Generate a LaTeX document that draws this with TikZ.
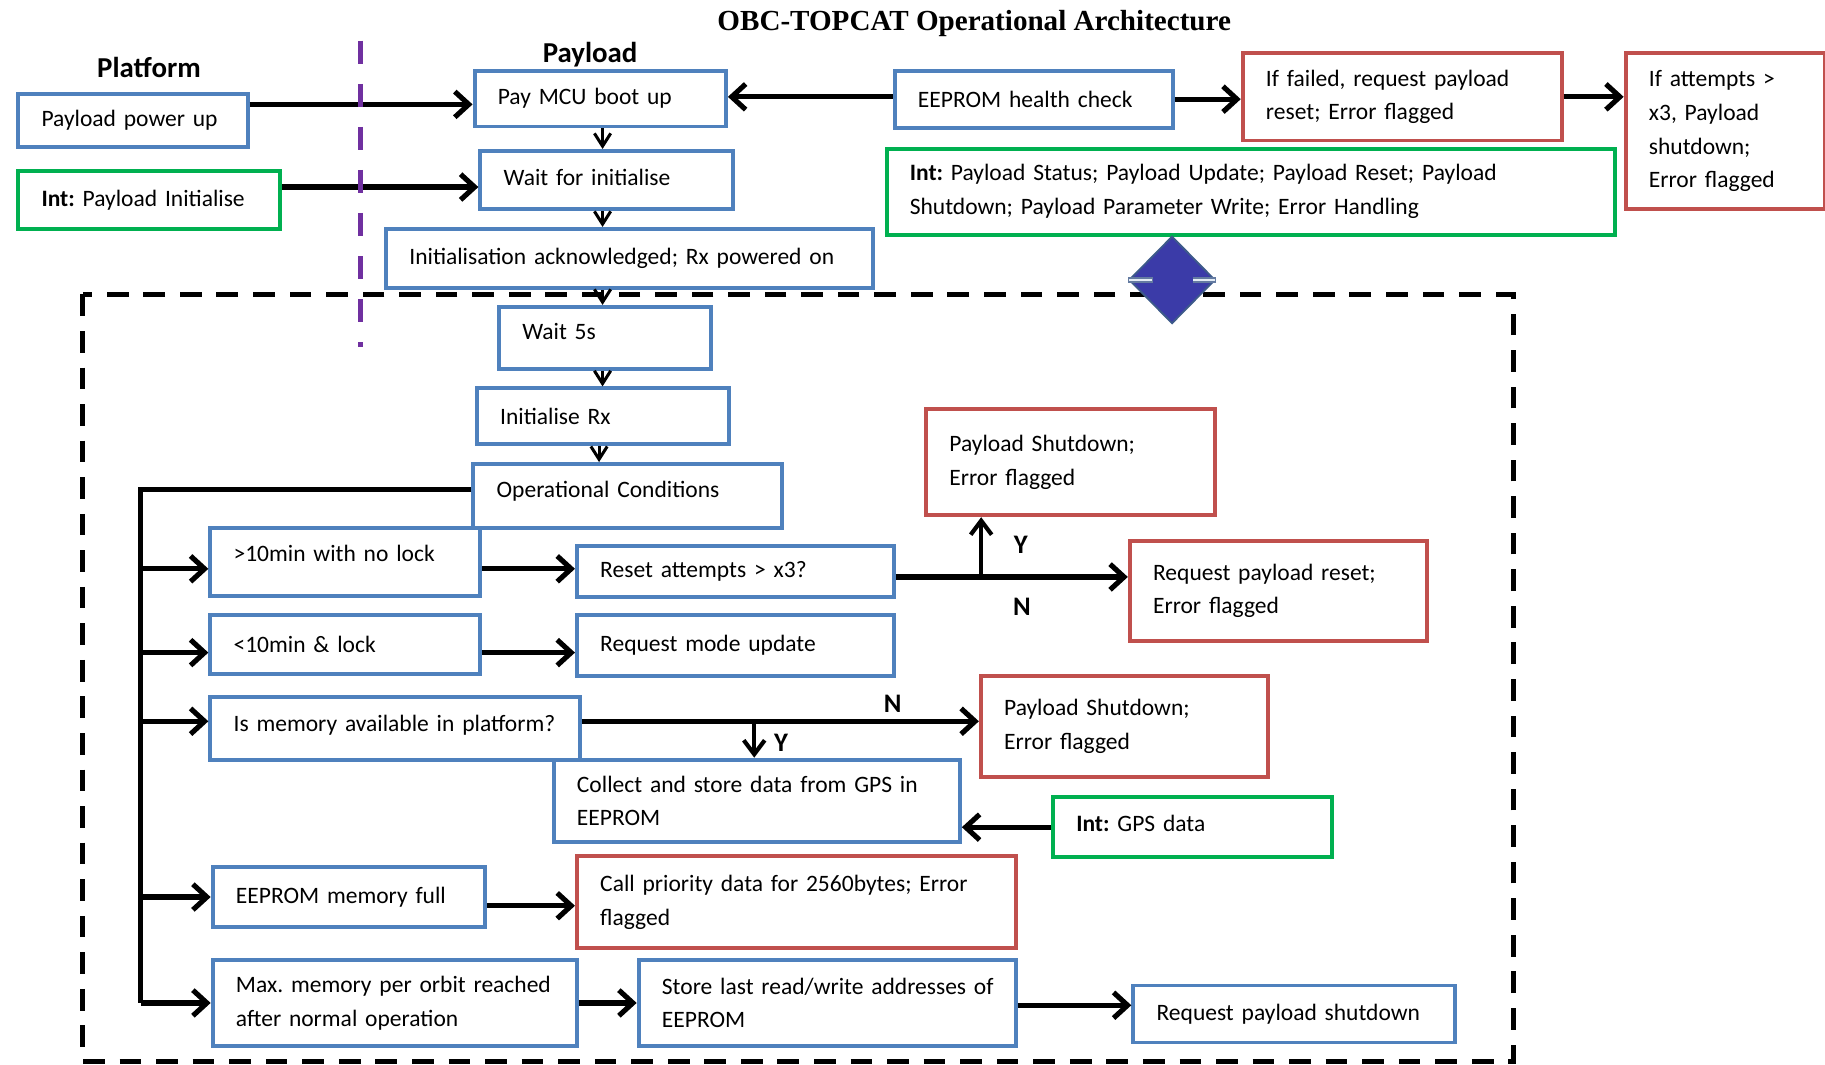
\documentclass[tikz,border=0pt]{standalone}
\usepackage{fontspec}
\setmainfont{Carlito}
\newfontfamily\ttlfont{Liberation Serif}
\usetikzlibrary{arrows.meta,shapes.geometric,calc}
\definecolor{cblue}{HTML}{4F81BD}
\definecolor{cred}{HTML}{C0504D}
\definecolor{cgreen}{HTML}{00B050}
\definecolor{cpurple}{HTML}{7030A0}
\definecolor{cdia}{HTML}{3B3BA8}
\definecolor{cdiaedge}{HTML}{3D5A8A}
\frenchspacing
\newcommand\bfnt{\fontsize{10.1}{14.5}\selectfont\hyphenpenalty=10000\exhyphenpenalty=10000}
\newcommand\lift[2]{\raisebox{#1}[\height][\depth]{#2}}
\newcommand\mybox[7]{%
 \pgfmathsetmacro\myW{(#5-#3)*0.5}%
 \pgfmathsetmacro\myH{(#6-#4)*0.5}%
 \pgfmathsetmacro\myT{(#5-#3)*0.5-20}%
 \node[#1, minimum width=\myW pt, minimum height=\myH pt, text width=\myT pt] (#2) at (#3,#4) {#7};}
\tikzset{
 tbox/.style={draw, line width=1.7pt, fill=white, inner xsep=10pt, inner ysep=0pt, align=left, font=\bfnt, anchor=north west},
 bb/.style={tbox, draw=cblue},
 rb/.style={tbox, draw=cred},
 gb/.style={tbox, draw=cgreen},
 arr/.style={line width=2.2pt, -{Straight Barb[length=6pt,width=11pt]}},
 sarr/.style={line width=1.3pt, -{Straight Barb[length=5.5pt,width=7pt]}},
 yarr/.style={line width=1.8pt, -{Straight Barb[length=6pt,width=9pt]}},
 busl/.style={line width=2.2pt},
 yn/.style={font=\fontsize{11.5}{13}\selectfont\bfseries},
 hdr/.style={font=\fontsize{12.4}{15}\selectfont\bfseries},
}
\begin{document}
\begin{tikzpicture}[x=0.5pt,y=-0.5pt]
\useasboundingbox (0,0) rectangle (1568,915);
\fill[white] (0,0) rectangle (1568,915);
% dashed frame
\draw[line width=2.2pt, dash pattern=on 9.3pt off 6.4pt] (71,253) rectangle (1300,912);
% headings
\node[font=\ttlfont\fontsize{12.5}{15}\selectfont\bfseries] (title) at (837,20) {OBC-TOPCAT Operational Architecture};
\node[hdr] (plat) at (128,58) {Platform};
\node[hdr] (payl) at (507,47) {Payload};
% boxes
\mybox{bb}{pp}{14}{79}{211}{125}{Payload power up}
\mybox{gb}{pin}{14}{145}{239}{195}{\textbf{Int:} Payload Initialise}
\mybox{bb}{mcu}{406}{59}{622}{107}{Pay MCU boot up}
\mybox{bb}{wfi}{411}{128}{628}{178}{\lift{1pt}{Wait for initialise}}
\mybox{bb}{ack}{330}{195}{748}{246}{Initialisation acknowledged; Rx powered on}
\mybox{bb}{eep}{767}{59}{1006}{108}{EEPROM health check}
\mybox{rb}{fail}{1066}{44}{1340}{119}{\mbox{If failed, request payload}\\\mbox{reset; Error flagged}}
\mybox{rb}{att}{1395}{44}{1566}{178}{\mbox{If attempts >}\\\mbox{x3, Payload}\\\mbox{shutdown;}\\\mbox{Error flagged}}
\mybox{gb}{ints}{760}{126}{1386}{200}{\mbox{\textbf{Int:} Payload Status; Payload Update; Payload Reset; Payload}\\\mbox{Shutdown; Payload Parameter Write; Error Handling}}
\mybox{bb}{w5}{427}{262}{609}{315}{\lift{2.5pt}{Wait 5s}}
\mybox{bb}{irx}{408}{332}{625}{380}{Initialise Rx}
\mybox{bb}{opc}{405}{397}{670}{452}{\lift{2pt}{Operational Conditions}}
\mybox{bb}{t10}{179}{452}{411}{510}{\lift{3.5pt}{>10min with no lock}}
\mybox{bb}{rst}{494}{467}{766}{511}{Reset attempts > x3?}
\mybox{rb}{psd1}{794}{350}{1042}{441}{\mbox{Payload Shutdown;}\\\mbox{Error flagged}}
\mybox{rb}{rpr}{969}{463}{1224}{549}{\mbox{Request payload reset;}\\\mbox{Error flagged}}
\mybox{bb}{l10}{179}{527}{411}{577}{<10min \& lock}
\mybox{bb}{rmu}{494}{527}{766}{579}{Request mode update}
\mybox{bb}{mem}{179}{597}{497}{651}{\lift{1.5pt}{\mbox{Is memory available in platform?}}}
\mybox{rb}{psd2}{841}{579}{1088}{666}{\mbox{Payload Shutdown;}\\\mbox{Error flagged}}
\mybox{bb}{col}{474}{651}{823}{722}{\mbox{Collect and store data from GPS in}\\\mbox{EEPROM}}
\mybox{gb}{gps}{903}{683}{1143}{735}{\lift{1.5pt}{\textbf{Int:} GPS data}}
\mybox{bb}{eef}{181}{743}{415}{795}{EEPROM memory full}
\mybox{rb}{cpd}{494}{734}{871}{813}{\mbox{Call priority data for 2560bytes; Error}\\\mbox{flagged}}
\mybox{bb}{mx}{181}{823}{494}{897}{\mbox{Max. memory per orbit reached}\\\mbox{after normal operation}}
\mybox{bb}{sl}{547}{823}{871}{897}{\mbox{Store last read/write addresses of}\\\mbox{EEPROM}}
\mybox{bb}{rps}{972}{845}{1248}{894}{Request payload shutdown}
% diamond
\node[diamond, aspect=1, draw=cdiaedge, fill=cdia, line width=0.8pt, minimum width=37pt, minimum height=37.5pt, inner sep=0pt] (dia) at (1007,240.5) {};
\draw[line width=2.4pt, cdiaedge!80!white] (dia.west) -- ++(10.5pt,0);
\draw[line width=1.1pt, cblue!15!white] ([xshift=0.3pt]dia.west) -- ++(10pt,0);
\draw[line width=2.4pt, cdiaedge!80!white] (dia.east) -- ++(-10pt,0);
\draw[line width=1.1pt, cblue!15!white] ([xshift=-0.3pt]dia.east) -- ++(-9.5pt,0);
% top connectors
\coordinate (a1) at ([yshift=-2.5pt]mcu.west);
\draw[arr] (pp.east |- a1) -- (a1);
\coordinate (a2) at ([yshift=-3pt]wfi.west);
\draw[arr] (pin.east |- a2) -- (a2);
\coordinate (a3) at ([yshift=1pt]eep.west);
\draw[arr] (a3) -- (mcu.east |- a3);
\draw[arr] (eep.east) -- (fail.west |- eep.east);
\draw[arr] (fail.east) -- (att.west |- fail.east);
\coordinate (vx) at ([xshift=1pt]mcu.south);
\draw[sarr] (vx |- mcu.south) -- (vx |- wfi.north);
\draw[sarr] (vx |- wfi.south) -- (vx |- ack.north);
\draw[sarr] (vx |- ack.south) -- (vx |- w5.north);
\draw[sarr] (vx |- w5.south) -- (vx |- irx.north);
\coordinate (vx2) at ([xshift=-1.5pt]vx);
\draw[sarr] (vx2 |- irx.south) -- (vx2 |- opc.north);
% bus
\coordinate (opcw) at ([yshift=2.75pt]opc.west);
\coordinate (busx) at (121,0);
\draw[busl] (opcw) -| (busx |- mx.west);
\coordinate (r10) at ([yshift=-3pt]t10.west);
\draw[arr] (busx |- r10) -- (r10);
\draw[arr] (t10.east |- r10) -- (rst.west |- r10);
\coordinate (rr) at ([yshift=-2.5pt]rst.east);
\draw[arr] (rr) -- (rpr.west |- rr);
\coordinate (yb) at ([xshift=24.5pt]psd1.south west |- rr);
\draw[yarr] (yb) -- (yb |- psd1.south);
\coordinate (l10a) at ([yshift=-3.5pt]l10.west);
\draw[arr] (busx |- l10a) -- (l10a);
\draw[arr] (l10.east |- l10a) -- (rmu.west |- l10a);
\coordinate (ma) at ([yshift=3pt]mem.west);
\draw[arr] (busx |- ma) -- (ma);
\draw[arr] (mem.east |- ma) -- (psd2.west |- ma);
\coordinate (yb2) at ([xshift=87pt]col.north west |- ma);
\draw[yarr] (yb2) -- (yb2 |- col.north);
\draw[arr] (gps.west) -- (col.east |- gps.west);
\draw[arr] (busx |- eef.west) -- (eef.west);
\coordinate (ea) at ([yshift=-1.5pt]cpd.west);
\draw[arr] (eef.east |- ea) -- (ea);
\draw[arr] (busx |- mx.west) -- (mx.west);
\draw[arr] (mx.east) -- (sl.west);
\coordinate (sa) at ([yshift=-1pt]sl.east);
\draw[arr] (sa) -- (rps.west |- sa);
% Y/N labels
\node[yn] (ly1) at (877,468) {Y};
\node[yn] (ln1) at (878,521) {N};
\node[yn] (ln2) at (767,605) {N};
\node[yn] (ly2) at (671,638) {Y};
% purple separator
\draw[cpurple, line width=2.2pt, dash pattern=on 10pt off 8.5pt] (310,35) -- (310,298);
\end{tikzpicture}
\end{document}
